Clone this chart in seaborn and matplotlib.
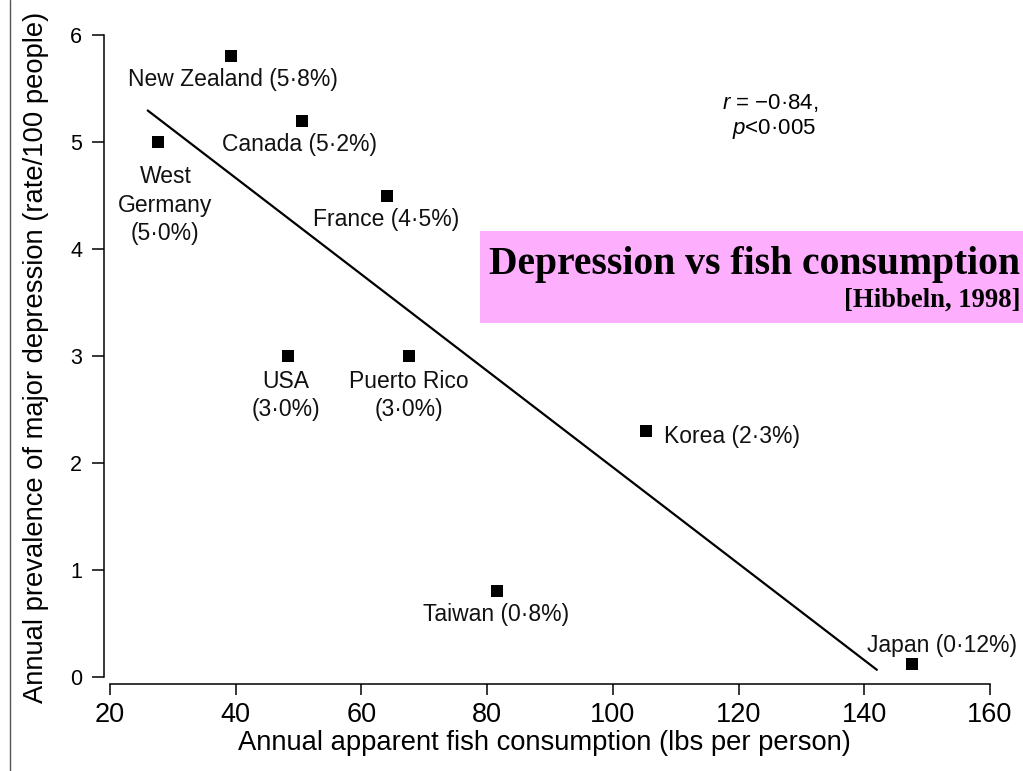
import numpy as np
import pandas as pd
import matplotlib
matplotlib.use("Agg")
import matplotlib.pyplot as plt
import seaborn as sns
from matplotlib.lines import Line2D
from matplotlib.patches import Rectangle

# Per-country fish consumption and depression prevalence
countries = ["New Zealand", "Canada", "West Germany", "France", "USA",
             "Puerto Rico", "Korea", "Taiwan", "Japan"]
fish_lbs = [39.3, 50.5, 27.7, 64.1, 48.3, 67.6, 105.2, 81.6, 147.6]
prevalence = [5.8, 5.2, 5.0, 4.5, 3.0, 3.0, 2.3, 0.8, 0.12]
point_labels = ["New Zealand (5·8%)", "Canada (5·2%)", "West\nGermany\n(5·0%)",
                "France (4·5%)", "USA\n(3·0%)", "Puerto Rico\n(3·0%)",
                "Korea (2·3%)", "Taiwan (0·8%)", "Japan (0·12%)"]
fit_range = [26.0, 142.0]
x_ticks = [20, 40, 60, 80, 100, 120, 140, 160]
y_ticks = [0, 1, 2, 3, 4, 5, 6]

# label placement relative to each marker (points) and horizontal alignment
label_offsets = [(1.5, -16.5), (-1.5, -17), (5, -45.5), (-0.7, -17), (-1.4, -28.5),
                 (0, -28.5), (13, -4), (-0.7, -16.5), (21.5, 13.5)]
label_ha = ["center", "center", "center", "center", "center",
            "center", "left", "center", "center"]

sns.set_theme(style="ticks")
plt.rcParams["font.family"] = ["Liberation Sans", "DejaVu Sans"]
plt.rcParams["mathtext.fontset"] = "custom"
plt.rcParams["mathtext.it"] = "Liberation Sans:italic"
plt.rcParams["mathtext.rm"] = "Liberation Sans"
plt.rcParams["text.color"] = "black"
plt.rcParams["axes.labelcolor"] = "black"

df = pd.DataFrame({"country": countries, "fish": fish_lbs, "prev": prevalence})

fig = plt.figure(figsize=(10.23, 7.71), dpi=100)
ax = fig.add_axes([110 / 1023, 94 / 771, 880 / 1023, 642 / 771])

# least-squares trend line across the fitted range
slope, intercept = np.polyfit(fish_lbs, prevalence, 1)
fit_df = pd.DataFrame({"fish": fit_range,
                       "prev": [intercept + slope * v for v in fit_range]})
sns.lineplot(data=fit_df, x="fish", y="prev", ax=ax, color="black", lw=1.6)

sns.scatterplot(data=df, x="fish", y="prev", ax=ax, marker="s", s=78,
                color="black", linewidth=0, clip_on=False, zorder=3)

for x, y, txt, off, ha in zip(fish_lbs, prevalence, point_labels, label_offsets, label_ha):
    ax.annotate(txt, (x, y), xytext=off, textcoords="offset points",
                ha=ha, va="center", fontsize=16.5, linespacing=1.3,
                color="#111111")

ax.set_xlim(20, 160)
ax.set_ylim(0, 6)
ax.set_xticks(x_ticks)
ax.set_yticks(y_ticks)

sns.despine(ax=ax)
ax.spines["bottom"].set_position(("outward", 5))
ax.spines["left"].set_position(("outward", 4.3))
for s in ("bottom", "left"):
    ax.spines[s].set_linewidth(1.1)
    ax.spines[s].set_color("black")

ax.tick_params(axis="x", length=8, width=1.1, pad=5, labelsize=19.5, colors="black")
ax.tick_params(axis="y", length=8.6, width=1.1, pad=7, labelsize=15.5, colors="black")

ax.set_xlabel("Annual apparent fish consumption (lbs per person)", fontsize=19.7)
ax.set_ylabel("Annual prevalence of major depression (rate/100 people)", fontsize=19.7)
ax.xaxis.set_label_coords(0.494, -0.0826)
ax.yaxis.set_label_coords(-0.069, 0.4977)

# correlation note
fig.text(770 / 1023, 1 - 103 / 771, r"$\mathit{r}$ = −0·84,", ha="center", va="center",
         fontsize=16)
fig.text(774 / 1023, 1 - 129 / 771, r"$\mathit{p}$<0·005", ha="center", va="center",
         fontsize=16)

# title banner
fig.patches.append(Rectangle((480 / 1023, 1 - 323 / 771), 543 / 1023, 92 / 771,
                             transform=fig.transFigure, facecolor="#FDAFFD",
                             edgecolor="none", zorder=0))
fig.text(1020 / 1023, 1 - 274 / 771, "Depression vs fish consumption", ha="right",
         va="baseline", fontsize=28.5, fontweight="bold", family="Liberation Serif")
fig.text(1021 / 1023, 1 - 307 / 771, "[Hibbeln, 1998]", ha="right", va="baseline",
         fontsize=19.2, fontweight="bold", family="Liberation Serif")

# page edge rule on the left
fig.add_artist(Line2D([9.5 / 1023, 9.5 / 1023], [0, 1], transform=fig.transFigure,
                      color="#555555", lw=1))

fig.savefig("out.png", dpi=100)
